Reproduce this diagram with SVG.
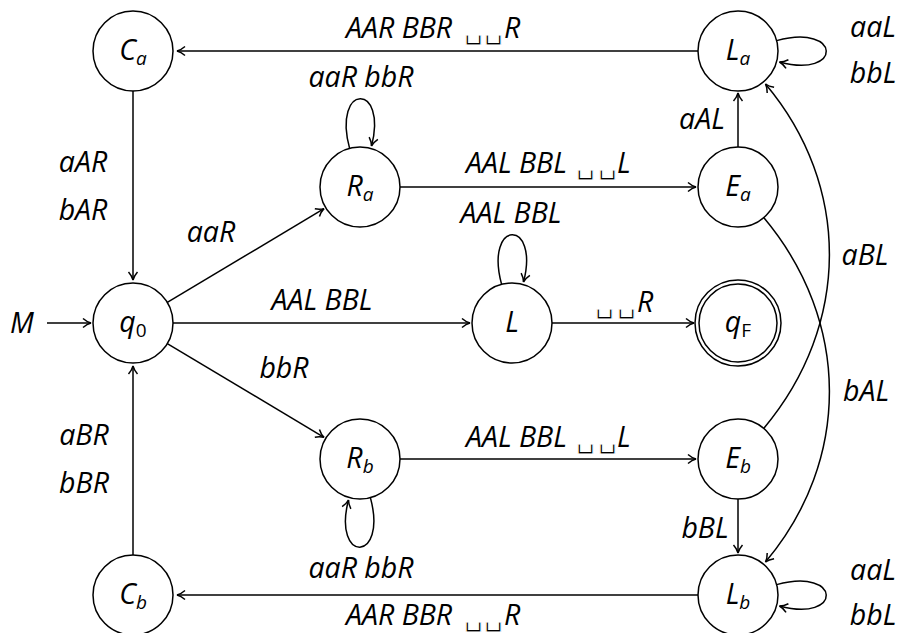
<svg xmlns="http://www.w3.org/2000/svg" width="899" height="633" viewBox="0 0 899 633">
<style>
.n{fill:#fff;stroke:#000;stroke-width:1.5}
.e{fill:none;stroke:#000;stroke-width:1.5;marker-end:url(#arr)}
text{font-family:"Open Sans","Noto Sans","DejaVu Sans",sans-serif;font-style:italic;font-size:28.5px;fill:#000;text-anchor:middle}
.st{text-anchor:start}
.s{font-size:19px}
.u{font-style:normal}
.b{font-family:"DejaVu Sans",sans-serif;font-style:normal;font-size:30px;stroke:#fff;stroke-width:1px}
</style>
<defs>
<marker id="arr" viewBox="-10 -6 12 12" refX="0" refY="0" markerWidth="12" markerHeight="12" markerUnits="userSpaceOnUse" orient="auto">
<path d="M-8,-4.5 Q-4,-1 0,0 Q-4,1 -8,4.5" fill="none" stroke="#000" stroke-width="1.5"/>
</marker>
</defs>
<g id="edges">
<path class="e" d="M47,323 L91,323"/>
<path class="e" d="M698,51 L177,51"/>
<path class="e" d="M133,91 L133,280"/>
<path class="e" d="M167.3,302.4 L324,208.6"/>
<path class="e" d="M167.3,343.6 L324,437.4"/>
<path class="e" d="M173,323 L470,323"/>
<path class="e" d="M133,555 L133,366"/>
<path class="e" d="M698,595 L177,595"/>
<path class="e" d="M400,187 L696,187"/>
<path class="e" d="M400,459 L696,459"/>
<path class="e" d="M552,323 L694,323"/>
<path class="e" d="M738,147 L738,93"/>
<path class="e" d="M738,499 L738,553"/>
<path class="e" d="M763.7,428.4 C851,324.4 851,185.6 765.5,84"/>
<path class="e" d="M763.7,217.6 C851,321.6 851,460.4 765.5,562"/>
<path class="e" d="M349.6,148.4 C332,82.7 388,82.7 371.5,146"/>
<path class="e" d="M501.6,284.4 C484,218.7 540,218.7 523.5,282"/>
<path class="e" d="M370.4,497.6 C388,563.3 332,563.3 348.5,500"/>
<path class="e" d="M776.6,40.6 C842.3,23 842.3,79 779.5,62"/>
<path class="e" d="M776.6,584.6 C842.3,567 842.3,623 779.5,606"/>
<text class="st" y="38"><tspan x="346">AAR BBR</tspan><tspan class="b" x="464">␣</tspan><tspan class="b" x="484">␣</tspan><tspan x="504">R</tspan></text>
<text class="st" y="625"><tspan x="346">AAR BBR</tspan><tspan class="b" x="464">␣</tspan><tspan class="b" x="484">␣</tspan><tspan x="504">R</tspan></text>
<text class="st" y="173"><tspan x="466">AAL BBL</tspan><tspan class="b" x="576">␣</tspan><tspan class="b" x="598">␣</tspan><tspan x="617">L</tspan></text>
<text class="st" y="447"><tspan x="466">AAL BBL</tspan><tspan class="b" x="576">␣</tspan><tspan class="b" x="598">␣</tspan><tspan x="617">L</tspan></text>
<text class="st" y="312"><tspan class="b" x="595">␣</tspan><tspan class="b" x="617">␣</tspan><tspan x="637">R</tspan></text>
<text x="83" y="172">aAR</text>
<text x="83" y="220">bAR</text>
<text x="211" y="242">aaR</text>
<text x="361" y="87">aaR bbR</text>
<text x="511" y="223">AAL BBL</text>
<text x="322" y="310">AAL BBL</text>
<text x="284" y="378">bbR</text>
<text x="361" y="578">aaR bbR</text>
<text x="84" y="445">aBR</text>
<text x="84" y="493">bBR</text>
<text x="702" y="129">aAL</text>
<text x="705" y="538">bBL</text>
<text x="873" y="37">aaL</text>
<text x="873" y="83">bbL</text>
<text x="873" y="580">aaL</text>
<text x="873" y="625">bbL</text>
<text x="865" y="265">aBL</text>
<text x="866" y="401">bAL</text>
<text x="22" y="333">M</text>
</g>
<g id="Ca"><circle class="n" cx="133" cy="51" r="40"/><text x="133" y="60">C<tspan class="s" dy="5">a</tspan></text></g>
<g id="q0"><circle class="n" cx="133" cy="323" r="40"/><text x="133" y="332">q<tspan class="s u" dy="5">0</tspan></text></g>
<g id="Cb"><circle class="n" cx="133" cy="595" r="40"/><text x="133" y="604">C<tspan class="s" dy="5">b</tspan></text></g>
<g id="Ra"><circle class="n" cx="360" cy="187" r="40"/><text x="360" y="196">R<tspan class="s" dy="5">a</tspan></text></g>
<g id="Rb"><circle class="n" cx="360" cy="459" r="40"/><text x="360" y="468">R<tspan class="s" dy="5">b</tspan></text></g>
<g id="L"><circle class="n" cx="512" cy="323" r="40"/><text x="512" y="332">L</text></g>
<g id="qF"><circle class="n" cx="738" cy="323" r="43"/><circle class="n" cx="738" cy="323" r="39"/><text x="738" y="332">q<tspan class="s u" dy="5">F</tspan></text></g>
<g id="La"><circle class="n" cx="738" cy="51" r="40"/><text x="738" y="60">L<tspan class="s" dy="5">a</tspan></text></g>
<g id="Ea"><circle class="n" cx="738" cy="187" r="40"/><text x="738" y="196">E<tspan class="s" dy="5">a</tspan></text></g>
<g id="Eb"><circle class="n" cx="738" cy="459" r="40"/><text x="738" y="468">E<tspan class="s" dy="5">b</tspan></text></g>
<g id="Lb"><circle class="n" cx="738" cy="595" r="40"/><text x="738" y="604">L<tspan class="s" dy="5">b</tspan></text></g>
</svg>
